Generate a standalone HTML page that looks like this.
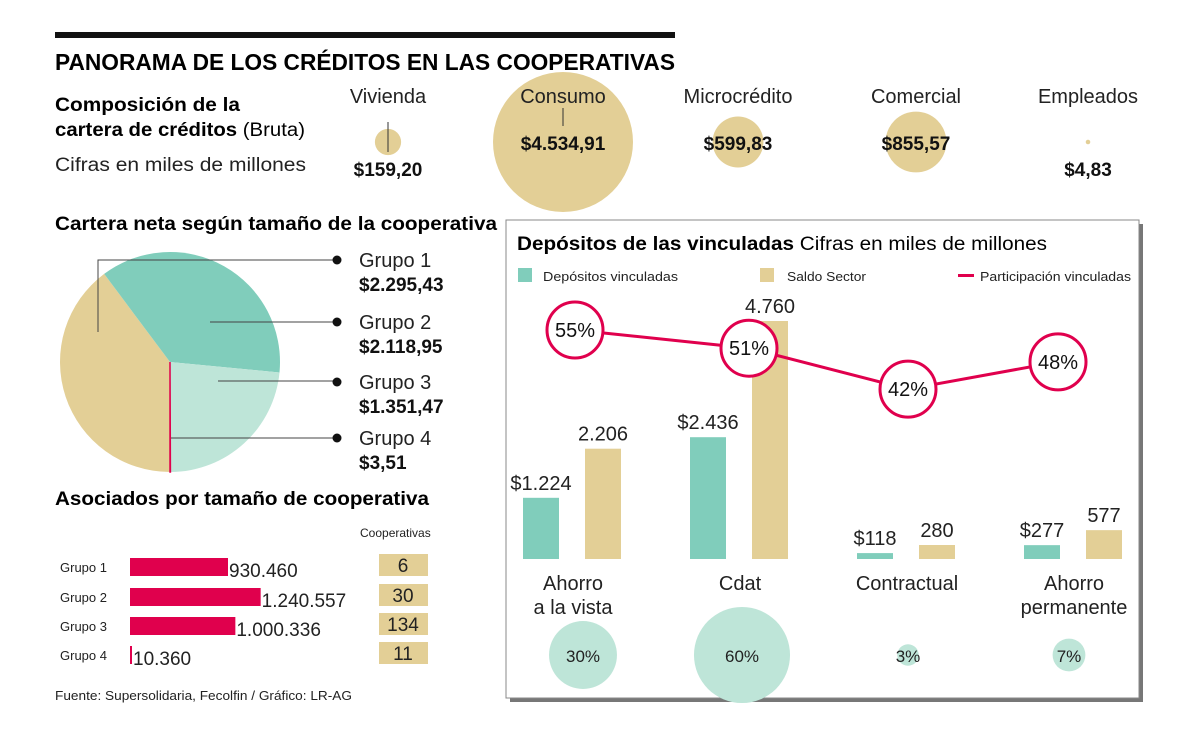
<!DOCTYPE html>
<html><head><meta charset="utf-8"><style>
body{margin:0;background:#fff}
svg{display:block;font-family:"Liberation Sans",sans-serif}
</style></head><body>
<svg id="c" width="1200" height="736" viewBox="0 0 1200 736">
<g id="bubbles"></g>
<rect x="55" y="32" width="620" height="6" fill="#111"/>
<text x="55" y="70" font-size="23" font-weight="bold" textLength="620" lengthAdjust="spacingAndGlyphs">PANORAMA DE LOS CRÉDITOS EN LAS COOPERATIVAS</text>
<text x="55" y="111" font-size="19" font-weight="bold" textLength="185" lengthAdjust="spacingAndGlyphs">Composición de la</text>
<text x="55" y="136" font-size="19" textLength="250" lengthAdjust="spacingAndGlyphs"><tspan font-weight="bold">cartera de créditos</tspan> (Bruta)</text>
<text x="55" y="171" font-size="19" textLength="251" lengthAdjust="spacingAndGlyphs" fill="#222">Cifras en miles de millones</text>
<text x="55" y="230" font-size="19" font-weight="bold" textLength="442" lengthAdjust="spacingAndGlyphs">Cartera neta según tamaño de la cooperativa</text>
<g id="pie"></g>
<text x="55" y="505" font-size="19" font-weight="bold" textLength="374" lengthAdjust="spacingAndGlyphs">Asociados por tamaño de cooperativa</text>
<text x="360" y="537" font-size="12" fill="#222">Cooperativas</text>
<g id="hbars"></g>
<text x="55" y="700" font-size="13" fill="#222" textLength="297" lengthAdjust="spacingAndGlyphs">Fuente: Supersolidaria, Fecolfin / Gráfico: LR-AG</text>
<rect x="510" y="224" width="633" height="478" fill="#777"/>
<rect x="506" y="220" width="633" height="478" fill="#fff" stroke="#888" stroke-width="1"/>
<text x="517" y="250" font-size="19" textLength="530" lengthAdjust="spacingAndGlyphs"><tspan font-weight="bold">Depósitos de las vinculadas</tspan> Cifras en miles de millones</text>
<rect x="518" y="268" width="14" height="14" fill="#80CDBB"/>
<text x="543" y="281" font-size="13" fill="#222" textLength="135" lengthAdjust="spacingAndGlyphs">Depósitos vinculadas</text>
<rect x="760" y="268" width="14" height="14" fill="#E3CF96"/>
<text x="787" y="281" font-size="13" fill="#222" textLength="79" lengthAdjust="spacingAndGlyphs">Saldo Sector</text>
<rect x="958" y="274" width="16" height="3" fill="#E0004D"/>
<text x="980" y="281" font-size="13" fill="#222" textLength="151" lengthAdjust="spacingAndGlyphs">Participación vinculadas</text>
<g id="vbars"></g>
</svg>
<script>
const NS='http://www.w3.org/2000/svg';
function mk(t,a,p,txt){const e=document.createElementNS(NS,t);for(const k in a)e.setAttribute(k,a[k]);if(txt!==undefined)e.textContent=txt;p.appendChild(e);return e;}
// top bubbles
const loanCats=['Vivienda','Consumo','Microcrédito','Comercial','Empleados'];
const loanVals=[159.20,4534.91,599.83,855.57,4.83];
const loanLabels=['$159,20','$4.534,91','$599,83','$855,57','$4,83'];
// pie
const pieCats=['Grupo 1','Grupo 2','Grupo 3','Grupo 4'];
const pieVals=[2295.43,2118.95,1351.47,3.51];
const pieLabels=['$2.295,43','$2.118,95','$1.351,47','$3,51'];
// associates
const assocCats=['Grupo 1','Grupo 2','Grupo 3','Grupo 4'];
const assocVals=[930460,1240557,1000336,10360];
const assocLabels=['930.460','1.240.557','1.000.336','10.360'];
const coopCounts=['6','30','134','11'];
// deposits
const depCats=[['Ahorro','a la vista'],['Cdat'],['Contractual'],['Ahorro','permanente']];
const depVals=[1224,2436,118,277];
const saldoVals=[2206,4760,280,577];
const depLabels=['$1.224','$2.436','$118','$277'];
const saldoLabels=['2.206','4.760','280','577'];
const partVals=[55,51,42,48];
const shareVals=[30,60,3,7];

const TAN='#E3CF96',TEAL='#80CDBB',LT='#BEE5D8',RED='#E0004D';
// bubbles
(function(){const g=document.getElementById('bubbles');
const xs=[388,563,738,916,1088],k=70/Math.sqrt(4534.91);
loanVals.forEach((v,i)=>{const r=k*Math.sqrt(v);const cy=142;
let c=mk('circle',{cx:xs[i],cy:cy,r:r,fill:TAN},g);


let t=mk('text',{x:xs[i],y:103,'font-size':20,'text-anchor':'middle',fill:'#222'},g,loanCats[i]);


let vy=(i==0||i==4)?176:150;
if(i==1)mk('line',{x1:563,y1:108,x2:563,y2:126,stroke:'#333'},g);
if(i==0)mk('line',{x1:388,y1:122,x2:388,y2:152,stroke:'#333'},g);
let l=mk('text',{x:xs[i],y:vy,'font-size':19,'font-weight':'bold','text-anchor':'middle',fill:'#111'},g,loanLabels[i]);

});})();
// pie
(function(){const g=document.getElementById('pie');const cx=170,cy=362,r=110;
const tot=pieVals.reduce((a,b)=>a+b,0);const cols=[TAN,TEAL,LT,RED];let a0=0;
const pt=(a,rr)=>[cx-rr*Math.sin(a),cy+rr*Math.cos(a)];
pieVals.forEach((v,i)=>{const a1=a0+v/tot*2*Math.PI;const p0=pt(a0,r),p1=pt(a1,r);
let d=`M${cx},${cy}L${p0[0]},${p0[1]}A${r},${r} 0 ${a1-a0>Math.PI?1:0} 1 ${p1[0]},${p1[1]}Z`;
let p=mk('path',{d:d,fill:cols[i],stroke:i==3?RED:'none','stroke-width':i==3?1.5:0},g);

a0=a1;});
const ly=[260,322,382,438];
mk('polyline',{points:'98,332 98,260 335,260',fill:'none',stroke:'#444','stroke-width':1},g);
mk('line',{x1:210,y1:322,x2:335,y2:322,stroke:'#444'},g);
mk('line',{x1:218,y1:381,x2:335,y2:381,stroke:'#444'},g);
mk('line',{x1:171,y1:438,x2:335,y2:438,stroke:'#444'},g);
pieCats.forEach((c,i)=>{mk('circle',{cx:337,cy:ly[i],r:4.5,fill:'#111'},g);
let t=mk('text',{x:359,y:ly[i]+7,'font-size':20,fill:'#222'},g,c);


let v=mk('text',{x:359,y:ly[i]+31,'font-size':19,'font-weight':'bold',fill:'#111'},g,pieLabels[i]);

});})();
// hbars
(function(){const g=document.getElementById('hbars');const x0=130,sc=98/930460;const ys=[558,588,617,646];
assocVals.forEach((v,i)=>{const w=Math.max(2,v*sc);
let t=mk('text',{x:60,y:ys[i]+14,'font-size':13,fill:'#222'},g,assocCats[i]);


let b=mk('rect',{x:x0,y:ys[i],width:w,height:18,fill:RED},g);


let l=mk('text',{x:x0+w+1,y:ys[i]+19,'font-size':19,fill:'#222'},g,assocLabels[i]);


let c=mk('rect',{x:379,y:ys[i]-4,width:49,height:22,fill:TAN},g);


let ct=mk('text',{x:403,y:ys[i]+14,'font-size':19,'text-anchor':'middle',fill:'#222'},g,coopCounts[i]);

});})();
// vertical bars
(function(){const g=document.getElementById('vbars');const base=559,sc=0.05;const gx=i=>523+i*167;
const yP=v=>330+(55-v)*4.55;
const off=[10,2,1,-5];
depVals.forEach((v,i)=>{const x=gx(i);const h=v*sc,h2=saldoVals[i]*sc;
let b=mk('rect',{x:x,y:base-h,width:36,height:h,fill:TEAL},g);


let b2=mk('rect',{x:x+62,y:base-h2,width:36,height:h2,fill:TAN},g);


let l=mk('text',{x:x+18,y:base-h-8,'font-size':20,'text-anchor':'middle',fill:'#222'},g,depLabels[i]);


let l2=mk('text',{x:x+80,y:base-h2-8,'font-size':20,'text-anchor':'middle',fill:'#222'},g,saldoLabels[i]);


depCats[i].forEach((s,j)=>{let t=mk('text',{x:x+50,y:590+j*24,'font-size':20,'text-anchor':'middle',fill:'#222'},g,s);

});
const r=6.2*Math.sqrt(shareVals[i]);
const ccx=x+50+off[i];
let c=mk('circle',{cx:ccx,cy:655,r:r,fill:LT},g);


let ct=mk('text',{x:ccx,y:662,'font-size':17,'text-anchor':'middle',fill:'#222'},g,shareVals[i]+'%');

});
const px=[575,749,908,1058];
let pts=partVals.map((v,i)=>px[i]+','+yP(v)).join(' ');
let ln=mk('polyline',{points:pts,fill:'none',stroke:RED,'stroke-width':3},g);


partVals.forEach((v,i)=>{let c=mk('circle',{cx:px[i],cy:yP(v),r:28,fill:'#fff',stroke:RED,'stroke-width':3},g);


let t=mk('text',{x:px[i],y:yP(v)+7,'font-size':20,'text-anchor':'middle',fill:'#111'},g,v+'%');

});})();
</script>
</body></html>
